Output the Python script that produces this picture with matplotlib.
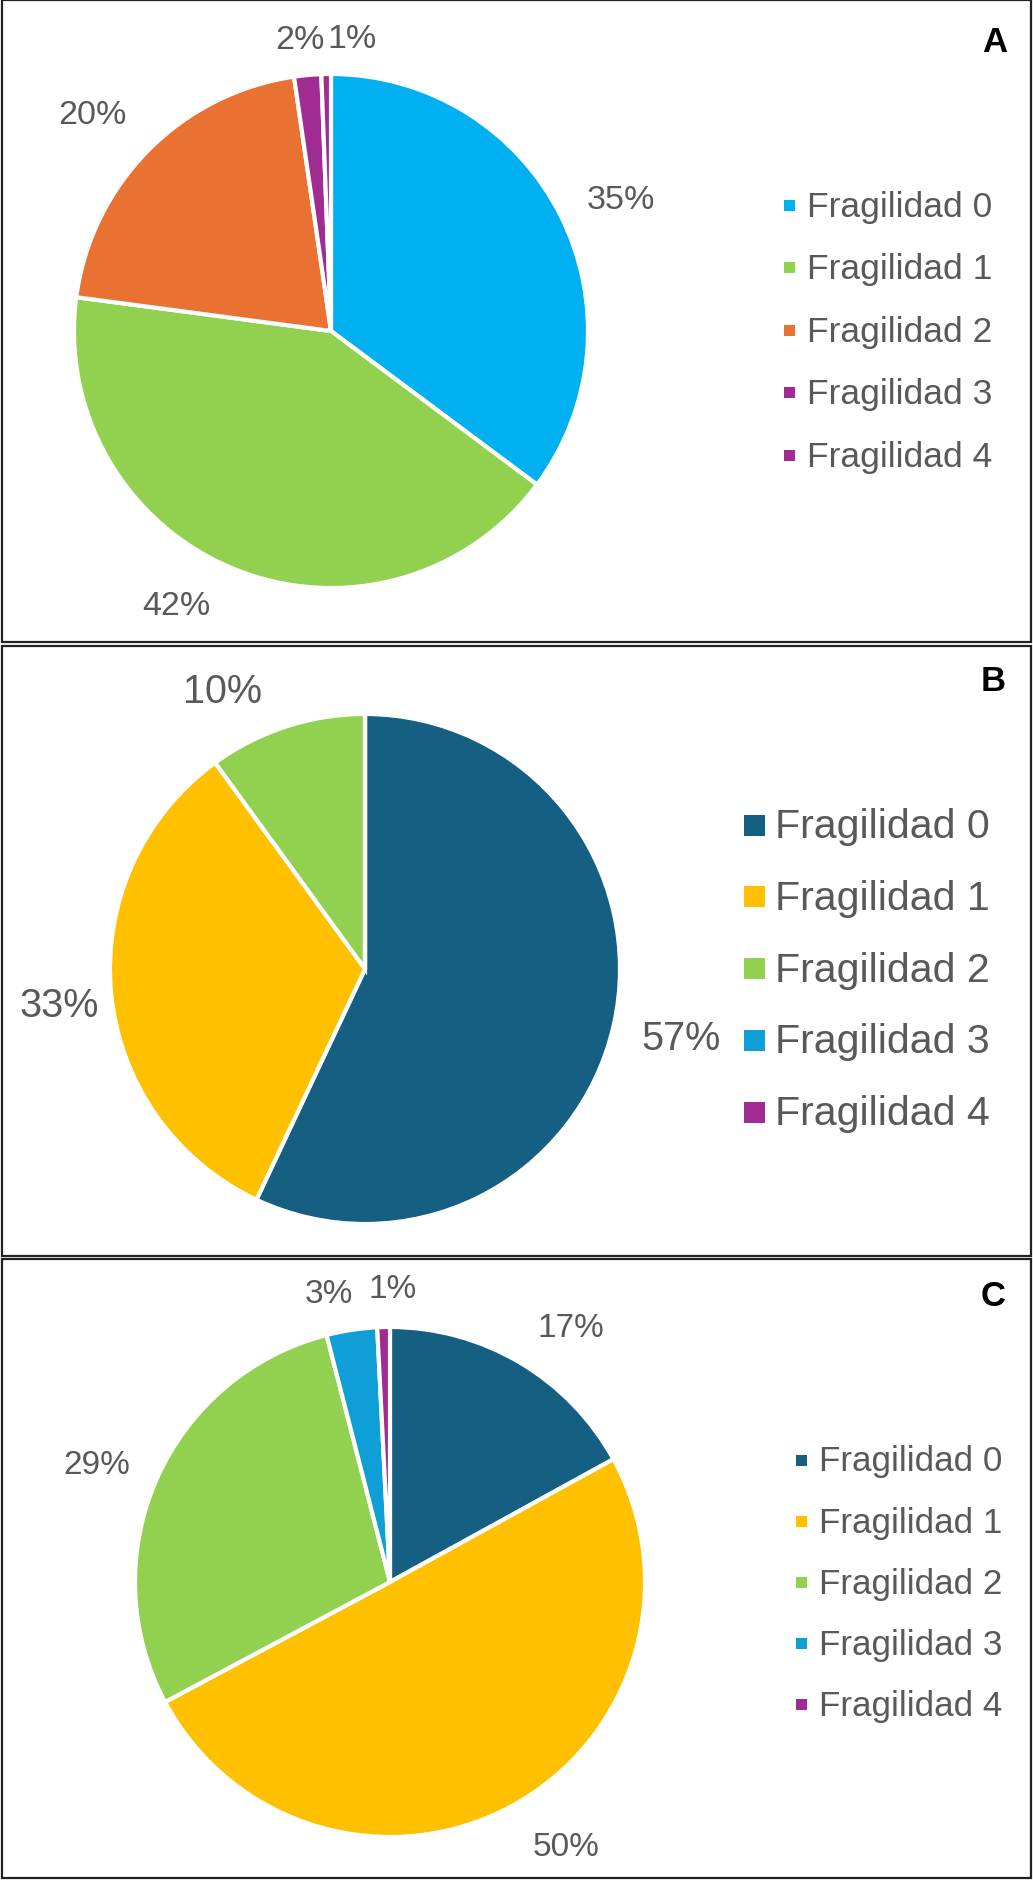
import matplotlib.pyplot as plt
import numpy as np
from matplotlib.patches import Rectangle

plt.rcParams["font.family"] = ["Liberation Sans", "DejaVu Sans"]

W, H = 1033, 1883
TEXT_GRAY = "#595959"

categories = ["Fragilidad 0", "Fragilidad 1", "Fragilidad 2", "Fragilidad 3", "Fragilidad 4"]

# percentages
values_a = [35.2, 41.9, 20.6, 1.7, 0.6]
labels_a = ["35%", "42%", "20%", "2%", "1%"]
colors_a = ["#00B0F0", "#92D050", "#E97132", "#A02B93", "#A02B93"]

values_b = [57, 33, 10, 0, 0]
labels_b = ["57%", "33%", "10%", "", ""]
colors_b = ["#156082", "#FFC000", "#92D050", "#0F9ED5", "#A02B93"]

values_c = [17, 50.2, 28.8, 3.2, 0.8]
labels_c = ["17%", "50%", "29%", "3%", "1%"]
colors_c = ["#156082", "#FFC000", "#92D050", "#0F9ED5", "#A02B93"]

# layout per panel (pixel units)
panels = [
    dict(letter="A", values=values_a, labels=labels_a, colors=colors_a,
         box=(0, 644), center=(331, 332), r=257,
         dist=[1.24, 1.227, 1.253, 1.142, 1.139], nudge=[-2.3, -7.2, 2.5, 0.8, -5.1],
         pct_size=24.5, leg_x=784, leg_y=206, leg_step=62.5, leg_size=25.5, mk=11,
         letter_xy=(995, 42)),
    dict(letter="B", values=values_b, labels=labels_b, colors=colors_b,
         box=(646, 1258), center=(365, 970), r=255,
         dist=[1.27, 1.208, 1.225, 1, 1], nudge=[0.3, 1.3, 9.2, 0, 0],
         pct_size=28.5, leg_x=744, leg_y=826, leg_step=71.8, leg_size=29.6, mk=21,
         letter_xy=(993, 681)),
    dict(letter="C", values=values_c, labels=labels_c, colors=colors_c,
         box=(1259, 1880), center=(390, 1583), r=255,
         dist=[1.226, 1.248, 1.239, 1.155, 1.15], nudge=[-4.8, 5.2, 2.0, 3.4, -1.9],
         pct_size=24, leg_x=796, leg_y=1461, leg_step=61.2, leg_size=25.2, mk=11,
         letter_xy=(993, 1296)),
]

fig = plt.figure(figsize=(W / 100, H / 100), dpi=100)
fig.patch.set_facecolor("white")

# full-figure overlay in pixel coords (y downward) for boxes, letters, legends
over = fig.add_axes([0, 0, 1, 1])
over.set_xlim(0, W)
over.set_ylim(H, 0)
over.axis("off")

for p in panels:
    cx, cy = p["center"]
    r = p["r"]
    ax = fig.add_axes([(cx - r) / W, 1 - (cy + r) / H, 2 * r / W, 2 * r / H])
    wedges, _ = ax.pie(p["values"], colors=p["colors"], startangle=90, counterclock=False,
                       radius=1, wedgeprops=dict(edgecolor="white", linewidth=3))
    ax.set_xlim(-1, 1)
    ax.set_ylim(-1, 1)
    ax.set_aspect("equal")
    ax.axis("off")

    for w, lab, d, n in zip(wedges, p["labels"], p["dist"], p["nudge"]):
        if not lab:
            continue
        ang = np.deg2rad((w.theta1 + w.theta2) / 2 + n)
        ax.text(d * np.cos(ang), d * np.sin(ang), lab, ha="center", va="center",
                fontsize=p["pct_size"], color=TEXT_GRAY, clip_on=False)

    top, bottom = p["box"]
    over.add_patch(Rectangle((2, top + 1), W - 4, bottom - top - 2, fill=False,
                             edgecolor="#222222", linewidth=1.6))
    lx, ly = p["letter_xy"]
    over.text(lx, ly, p["letter"], ha="center", va="center", fontsize=25,
              fontweight="bold", color="black")

    for i, (cat, col) in enumerate(zip(categories, p["colors"])):
        y = p["leg_y"] + i * p["leg_step"]
        mk = p["mk"]
        over.add_patch(Rectangle((p["leg_x"], y - mk / 2), mk, mk, facecolor=col, edgecolor="none"))
        over.text(p["leg_x"] + mk + 12 if mk < 15 else p["leg_x"] + mk + 10, y + 1, cat,
                  ha="left", va="center", fontsize=p["leg_size"], color=TEXT_GRAY)

fig.savefig("out.png", dpi=100)
